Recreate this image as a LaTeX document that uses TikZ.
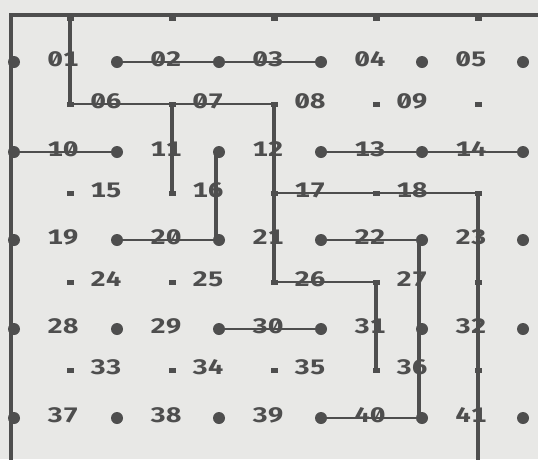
\documentclass[tikz,border=0pt]{standalone}
\usepackage{fontspec}
\usepackage{xcolor}
\usepackage{tikz}
\newfontfamily\printfont{Fira Sans}[Numbers={Monospaced,SlashedZero}, FakeStretch=1.3]
\definecolor{paper}{HTML}{E8E8E6}
\definecolor{ink}{HTML}{4E4E4E}

\tikzset{
  bigdot/.style={circle, fill=ink, inner sep=0pt, minimum size=12pt},
  smalldot/.style={rectangle, fill=ink, inner sep=0pt, minimum width=7pt, minimum height=5pt},
  tag/.style={font=\printfont\bfseries\fontsize{21}{25}\selectfont, text=ink, inner sep=0pt},
  wall/.style={draw=ink, line width=4.5pt},
  rail/.style={draw=ink, line width=2.6pt},
}

\begin{document}
\begin{tikzpicture}[x=1pt, y=-1pt]
  \useasboundingbox (0,0) rectangle (538,459);
  \fill[paper] (0,0) rectangle (538,459);
  \clip (0,0) rectangle (538,459);
  % big dots, rows A C E G I
  \foreach \y [count=\j] in {62,152,240,329,418}
    \foreach \x [count=\i] in {14,117,219,321,422,523}
      \node[bigdot] (b\i-\j) at (\x,\y) {};
  % small dots, top edge down to the cut at the bottom
  \foreach \y [count=\j from 0] in {18,104,193,282,370,462}
    \foreach \x [count=\i] in {70,172,274,376,478}
      \node[smalldot] (s\i-\j) at (\x,\y) {};
  % numbers
  \foreach \y [count=\j] in {62,152,240,329,418}
    \foreach \x [count=\i] in {14,117,219,321,422} {
      \pgfmathtruncatemacro\num{9*(\j-1)+\i}
      \node[tag] (t\num) at (\x+49,\y-3) {\ifnum\num<10 0\fi\num};
    }
  \foreach \y [count=\j] in {104,193,282,370}
    \foreach \x [count=\i] in {70,172,274,376} {
      \pgfmathtruncatemacro\num{9*(\j-1)+5+\i}
      \node[tag] (t\num) at (\x+36,\y-3) {\ifnum\num<10 0\fi\num};
    }
  % frame
  \coordinate (corner) at (11,15);
  \coordinate (topend) at (560,15);
  \coordinate (footend) at (11,480);
  \draw[wall] (topend) -- (corner) -- (footend);
  % walls between the small dots
  \draw[wall] (s1-0.center) -- (s1-1.center);
  \draw[rail] (s1-1.center) -- (s3-1.center);
  \draw[wall] (s2-1.center) -- (s2-2.center);
  \draw[wall] (s3-1.center) -- (s3-3.center);
  \draw[rail] (s3-3.center) -- (s4-3.center);
  \draw[wall] (s4-3.center) -- (s4-4.center);
  \draw[rail] (s3-2.center) -- (s5-2.center);
  \draw[wall] (s5-2.center) -- (s5-5.center);
  % walls between the big dots (the verticals sit a little left of the dots)
  \draw[rail] (b2-1) -- (b4-1);
  \draw[rail] (b1-2) -- (b2-2);
  \draw[rail] (b4-2) -- (b6-2);
  \draw[wall] ([xshift=-3pt]b3-2.center) -- ([xshift=-3pt]b3-3.center);
  \draw[rail] (b2-3) -- (b3-3);
  \draw[rail] (b4-3) -- (b5-3);
  \draw[wall] ([xshift=-3pt]b5-3.center) -- ([xshift=-3pt]b5-5.center);
  \draw[rail] (b3-4) -- (b4-4);
  \draw[rail] (b4-5) -- (b5-5);
\end{tikzpicture}
\end{document}
